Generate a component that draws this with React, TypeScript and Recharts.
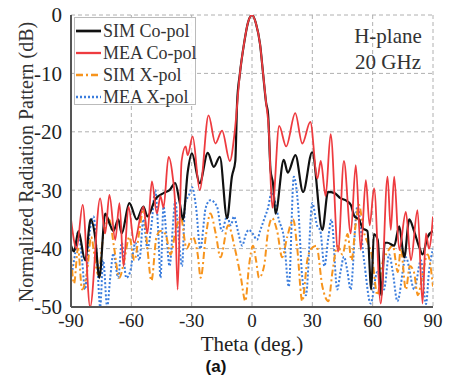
import React from "react";
import {
  LineChart,
  Line,
  XAxis,
  YAxis,
  CartesianGrid,
} from "recharts";

// theta (deg) / level (dB), peaks and nulls
const simCoTheta = [
  -90, -88.5, -86.3, -83, -80.2, -78, -75.9, -73, -70.5, -68.9, -66.5, -64.8, -61, -57.3, -54, -52,
  -48, -44, -41, -38.2, -36, -34.3, -32, -29.9, -26, -22, -19, -16, -12.4, -10, -8.3, -7.4, -6, -4,
  -2, 0, 2, 4, 5.5, 7, 8, 9.2, 10.5, 11.7, 15.8, 17.8, 21.6, 25.4, 29.9, 35, 37.8, 41, 44.1, 46.5,
  49.1, 51, 53.2, 55, 57.4, 59.3, 60.6, 62.5, 64.3, 66, 67.4, 70.7, 73.2, 75.7, 78.2, 80.6, 83.1,
  84.8, 87.3, 90,
];
const simCoPol = [
  -39.5, -40.5, -37, -42, -35, -38, -45, -34, -36, -37, -35, -37.4, -32.2, -35, -32.8, -34.5,
  -31.5, -30.5, -30, -28.8, -32, -35, -27, -23.7, -28.8, -23.6, -26, -24.3, -34.8, -27.7, -25, -15,
  -10, -5, -1.3, 0, -1.5, -5, -10, -15, -17, -26.5, -29, -34, -24.8, -27, -24, -30.3, -23.5, -36.8,
  -30.3, -30.5, -31.4, -31.7, -32.5, -34.5, -35, -36.5, -37, -47, -37.5, -38.5, -48, -39, -39,
  -39.5, -36.2, -41.5, -35, -37, -39.7, -41, -38, -37,
];

const meaCoTheta = [
  -90, -87.2, -84.2, -80.5, -75.5, -73, -70.9, -68, -65.9, -63.9, -61.4, -58.6, -54, -52, -49.8,
  -47.3, -45.5, -44, -41.5, -39.5, -38.3, -37, -35, -33, -32, -29.5, -26, -21.6, -18.2, -14.9, -11,
  -8.6, -6, -4, -2, 0, 2, 4, 5.5, 7, 8.4, 9.5, 10.2, 13.5, 17, 21.5, 25, 29, 32.5, 34.2, 36.6, 39.1,
  42.8, 45.7, 49.1, 51.6, 54.1, 56.6, 58.5, 60.7, 64, 67.4, 69, 70.7, 73.2, 76.5, 79, 82.3, 84.8,
  86.5, 88, 90,
];
const meaCoPol = [
  -35, -40, -32.5, -50, -31.4, -37.4, -30.8, -38.5, -32.2, -43, -32.8, -39, -32.8, -37.4, -28.5,
  -34, -31, -33, -24.3, -27.5, -32, -47, -25, -22.5, -24, -20.8, -30, -17.2, -22, -19.8, -25, -20,
  -10, -5, -1.3, 0, -1.5, -5, -10, -15, -20, -30, -33, -19, -22.5, -16.8, -22, -18.3, -28, -25,
  -31, -20.4, -40.5, -25, -37.4, -25.7, -40.2, -28.3, -36, -29.7, -49.4, -27.7, -36.8, -27.7,
  -40.2, -33.7, -42, -33.4, -49.4, -37.4, -40, -34.5,
];

const simXTheta = [
  -90, -88.5, -86.5, -84.5, -82, -80, -78, -76.5, -74, -71, -68.5, -66, -63.5, -61, -58.5, -56,
  -54, -52, -50, -47.5, -45.5, -43, -40.5, -38, -35.5, -32.5, -29.5, -27, -25.5, -23, -20.7, -18,
  -15.7, -11.8, -8.5, -5.5, -3.3, -1.5, 0.5, 2, 3.5, 6, 8, 10, 12.5, 15, 17.5, 20.5, 22.5, 25, 27.5,
  29.5, 32, 35, 38, 40, 42.5, 45, 47.5, 49.5, 51.5, 53.2, 55.5, 57.5, 59.5, 62.4, 64.5, 67.5, 70,
  72.5, 74, 76.5, 78.5, 80.5, 82.5, 84.5, 87.3, 90,
];
const simXPol = [
  -41, -46, -40, -47, -44, -38, -42, -44.5, -38, -35, -40, -45, -42, -38, -42, -37, -33, -40,
  -45.5, -38, -37, -37.5, -41, -37, -34.5, -40, -38, -41, -45, -38, -34, -37.5, -41.5, -36, -40,
  -45, -49, -43, -39.5, -42, -45, -43, -37, -34.8, -37, -41.5, -38, -35, -40, -49, -42, -40,
  -39.5, -46.5, -49, -44, -39.5, -41, -37.5, -42, -36, -32.5, -37, -39, -41, -48, -43, -40.5,
  -39.5, -44, -40, -47, -43, -44, -48, -45, -41, -46.5,
];

const meaXTheta = [
  -90, -88, -86.3, -84.5, -83, -81, -78.8, -77, -75.5, -74, -72, -70.5, -68.9, -66.5, -64.8, -62.5,
  -60.6, -58, -56, -54, -52, -50, -48.1, -46.5, -45.5, -44, -42.5, -41, -39, -38.2, -36.5, -34.8,
  -33.2, -31.5, -29.8, -27.8, -25.7, -23, -20.7, -17.4, -15, -12.4, -10.5, -9, -7, -4.9, -3, -1.6,
  0.5, 2.5, 4, 6, 8, 9.8, 11.5, 13.3, 15.8, 18.3, 20.8, 23, 25, 26.8, 30, 32.3, 34, 36, 38, 39.5,
  42.4, 44, 45.7, 47.5, 49, 52.4, 55.7, 59, 62.3, 65.6, 68.2, 70, 72.3, 76.5, 80.7, 84, 86.5, 88, 90,
];
const meaXPol = [
  -45, -41, -37, -42, -47, -38, -34.5, -42, -50, -42, -50, -45, -40.8, -45, -39, -45, -44, -39,
  -42, -35, -40, -36, -30, -38, -45, -32.8, -38, -43, -34.5, -31.7, -38, -43, -32, -31, -29.5,
  -33, -40, -33, -31.7, -32.8, -37, -34.5, -36, -34.5, -37, -39.5, -37.5, -36.8, -37.5, -38.5, -37,
  -35, -33, -30.3, -32, -35, -38, -46.5, -27.7, -33, -45, -48, -32.2, -36, -37, -43, -38, -35, -47,
  -44, -41.4, -44, -47, -32.8, -42, -49.4, -44, -47, -41, -44, -49, -41.5, -47, -42, -49.5, -44, -40,
];

const xTicks = [-90, -60, -30, 0, 30, 60, 90];
const yTicks = [0, -10, -20, -30, -40, -50];

const toRows = (t: number[], v: number[]) => t.map((x, i) => ({ t: x, v: v[i] }));

const series = [
  { name: "SIM Co-pol", data: toRows(simCoTheta, simCoPol), color: "#111111", width: 2.2, dash: undefined },
  { name: "MEA Co-pol", data: toRows(meaCoTheta, meaCoPol), color: "#ee3b3f", width: 1.8, dash: undefined },
  { name: "SIM X-pol", data: toRows(simXTheta, simXPol), color: "#f7941d", width: 2, dash: "7 3 2 3" },
  { name: "MEA X-pol", data: toRows(meaXTheta, meaXPol), color: "#3b7ddd", width: 2, dash: "2 2" },
];

const serif = "'Liberation Serif', 'Times New Roman', serif";

function LegendBox() {
  return (
    <div
      style={{
        position: "absolute",
        left: 74,
        top: 17,
        width: 122,
        height: 88,
        boxSizing: "border-box",
        border: "1px solid #bbb",
        background: "rgba(255,255,255,0.92)",
        paddingTop: 2,
        fontFamily: serif,
        fontSize: 18,
        color: "#333",
        lineHeight: "22px",
        whiteSpace: "nowrap",
      }}
    >
      {series.map((s) => (
        <div key={s.name} style={{ display: "flex", alignItems: "center" }}>
          <svg width={27} height={10} style={{ marginRight: 1, flexShrink: 0 }}>
            <line
              x1={1}
              y1={5}
              x2={26}
              y2={5}
              stroke={s.color}
              strokeWidth={s.width + 0.5}
              strokeDasharray={s.dash}
            />
          </svg>
          <span>{s.name}</span>
        </div>
      ))}
    </div>
  );
}

export default function App() {
  return (
    <div style={{ position: "absolute", left: 0, top: 0, width: 453, height: 382, background: "#fff" }}>
      <LineChart width={453} height={382} margin={{ top: 15, right: 20, bottom: 0, left: 0 }}>
        <CartesianGrid stroke="#b0b0b0" strokeDasharray="4 3" />
        <XAxis
          dataKey="t"
          type="number"
          domain={[-90, 90]}
          ticks={xTicks}
          allowDataOverflow
          height={75}
          stroke="#555"
          strokeWidth={2}
          tickLine={false}
          tickMargin={1}
          tick={{ fontSize: 19, fontFamily: serif, fill: "#222" }}
          label={{
            content: () => (
              <text x={252} y={351} textAnchor="middle" fontSize={21} fontFamily={serif} fill="#222">
                Theta (deg.)
              </text>
            ),
          }}
        />
        <XAxis xAxisId="top" orientation="top" type="number" domain={[-90, 90]} height={0} tick={false} tickLine={false} stroke="#555" strokeWidth={2} />
        <YAxis
          type="number"
          domain={[-50, 0]}
          ticks={yTicks}
          allowDataOverflow
          width={71}
          stroke="#555"
          strokeWidth={2}
          tickLine={false}
          tickMargin={3}
          tick={{ fontSize: 21, fontFamily: serif, fill: "#222" }}
          label={{
            content: () => (
              <text
                x={26}
                y={162}
                transform="rotate(-90 26 162)"
                textAnchor="middle"
                dominantBaseline="central"
                fontSize={20}
                fontFamily={serif}
                fill="#333"
              >
                Normalized Radiation Pattern (dB)
              </text>
            ),
          }}
        />
        <YAxis yAxisId="right" orientation="right" type="number" domain={[-50, 0]} width={0} tick={false} tickLine={false} stroke="#555" strokeWidth={2} />
        {[series[3], series[2], series[0], series[1]].map((s) => (
          <Line
            key={s.name}
            data={s.data}
            dataKey="v"
            name={s.name}
            type="monotone"
            stroke={s.color}
            strokeWidth={s.width}
            strokeDasharray={s.dash}
            dot={false}
            activeDot={false}
            isAnimationActive={false}
          />
        ))}
      </LineChart>
      <LegendBox />
      <div
        style={{
          position: "absolute",
          left: 338,
          top: 23,
          width: 100,
          textAlign: "center",
          fontFamily: serif,
          fontSize: 21,
          lineHeight: "26px",
          color: "#333",
        }}
      >
        H-plane
        <br />
        20 GHz
      </div>
      <div
        style={{
          position: "absolute",
          left: 196,
          top: 358,
          width: 40,
          textAlign: "center",
          fontFamily: "'Liberation Sans', Arial, sans-serif",
          fontWeight: "bold",
          fontSize: 17,
          lineHeight: "18px",
          color: "#111",
        }}
      >
        (a)
      </div>
    </div>
  );
}
